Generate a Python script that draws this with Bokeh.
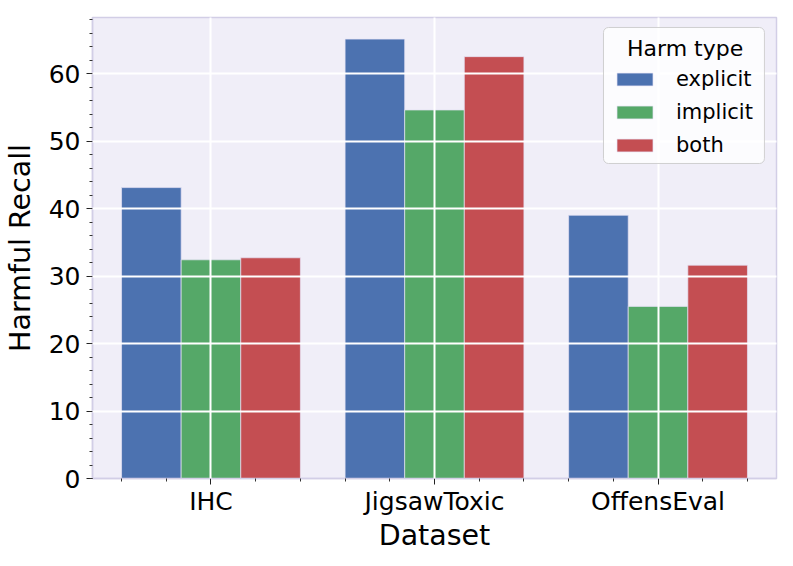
from bokeh.plotting import figure
from bokeh.models import ColumnDataSource, FixedTicker, Range1d, Legend, LegendItem, Label, BoxAnnotation
from bokeh.transform import dodge
from bokeh.embed import file_html
from bokeh.resources import INLINE

datasets = ["IHC", "JigsawToxic", "OffensEval"]
harm_types = ["explicit", "implicit", "both"]
explicit = [43.1, 65.1, 39.0]
implicit = [32.4, 54.6, 25.5]
both = [32.7, 62.5, 31.6]
colors = ["#4C72B0", "#55A868", "#C44E52"]
legend_title = "Harm type"

FONT = "DejaVu Sans"
idx = list(range(len(datasets)))
src = ColumnDataSource(dict(x=idx, explicit=explicit, implicit=implicit, both=both))

p = figure(width=777, height=550, frame_width=684, frame_height=461,
           output_backend="svg", toolbar_location=None,
           x_range=Range1d(-0.53, 2.53), y_range=Range1d(0, 68.3))
p.min_border_left = 85
p.min_border_right = 8
p.min_border_top = 17
p.min_border_bottom = 72

p.background_fill_color = "#F0EEF8"
p.border_fill_color = "white"
p.outline_line_color = "#D2CEE6"
p.outline_line_width = 1.5

bw = 0.8 / 3
renderers = []
for i, (ht, c) in enumerate(zip(harm_types, colors)):
    r = p.vbar(x=dodge("x", (i - 1) * bw, range=p.x_range), top=ht, width=bw,
               source=src, fill_color=c, line_color="#E6E3F5", line_width=1, line_alpha=0.7)
    renderers.append(r)

# ticks
minor_x = [round(k * 0.2 - 0.4, 2) for k in range(15) if abs((k * 0.2 - 0.4) - round(k * 0.2 - 0.4)) > 1e-6]
p.xaxis.ticker = FixedTicker(ticks=idx, minor_ticks=minor_x)
p.xaxis.major_label_overrides = {i: d for i, d in enumerate(datasets)}
p.yaxis.ticker = FixedTicker(ticks=[0, 10, 20, 30, 40, 50, 60], minor_ticks=list(range(0, 69, 2)))

for ax in (p.xaxis[0], p.yaxis[0]):
    ax.axis_line_color = "#D2CEE6"
    ax.axis_line_width = 1.5
    ax.major_tick_line_color = "#222222"
    ax.minor_tick_line_color = "#333333"
    ax.major_tick_out = 6
    ax.major_tick_in = 0
    ax.minor_tick_out = 3
    ax.minor_tick_in = 0
    ax.major_label_text_font = FONT
    ax.major_label_text_font_size = "25px"
    ax.major_label_text_color = "black"
    ax.axis_label_text_font = FONT
    ax.axis_label_text_font_size = "28.5px"
    ax.axis_label_text_font_style = "normal"
    ax.axis_label_text_color = "black"

p.xaxis.axis_label = "Dataset"
p.yaxis.axis_label = "Harmful Recall"
p.xaxis.major_label_standoff = 2
p.xaxis.axis_label_standoff = 0
p.yaxis.major_label_standoff = 6
p.yaxis.axis_label_standoff = 9

for g in (p.xgrid[0], p.ygrid[0]):
    g.grid_line_color = "white"
    g.grid_line_width = 2
    g.level = "guide"
p.xgrid.ticker = FixedTicker(ticks=idx)
p.ygrid.ticker = FixedTicker(ticks=[0, 10, 20, 30, 40, 50, 60])

# legend frame (drawn separately so that the centred title can sit on top of it)
legend_box = BoxAnnotation(left=1.756, right=2.476, bottom=46.67, top=66.82,
                           fill_color="white", fill_alpha=0.8,
                           line_color="#CCCCCC", line_alpha=0.9, line_width=1,
                           border_radius=5, level="annotation")
p.add_layout(legend_box)

title_lbl = Label(x=2.121, y=63.71, text=legend_title, text_align="center", text_baseline="middle",
                  text_font=FONT, text_font_size="22px", text_color="black", level="overlay")
p.add_layout(title_lbl)

legend = Legend(items=[LegendItem(label=ht, renderers=[r]) for ht, r in zip(harm_types, renderers)],
                location=(511, 312), title="\u00a0")
legend.title_text_font = FONT
legend.title_text_font_size = "22px"
legend.title_text_font_style = "normal"
legend.title_standoff = 5
legend.label_text_font = FONT
legend.label_text_font_size = "21px"
legend.label_text_color = "black"
legend.glyph_width = 45
legend.glyph_height = 16
legend.label_standoff = 19
legend.spacing = 9
legend.padding = 9
legend.margin = 0
legend.border_line_alpha = 0
legend.background_fill_alpha = 0
p.add_layout(legend)

open("out.html", "w").write(file_html(p, INLINE))
